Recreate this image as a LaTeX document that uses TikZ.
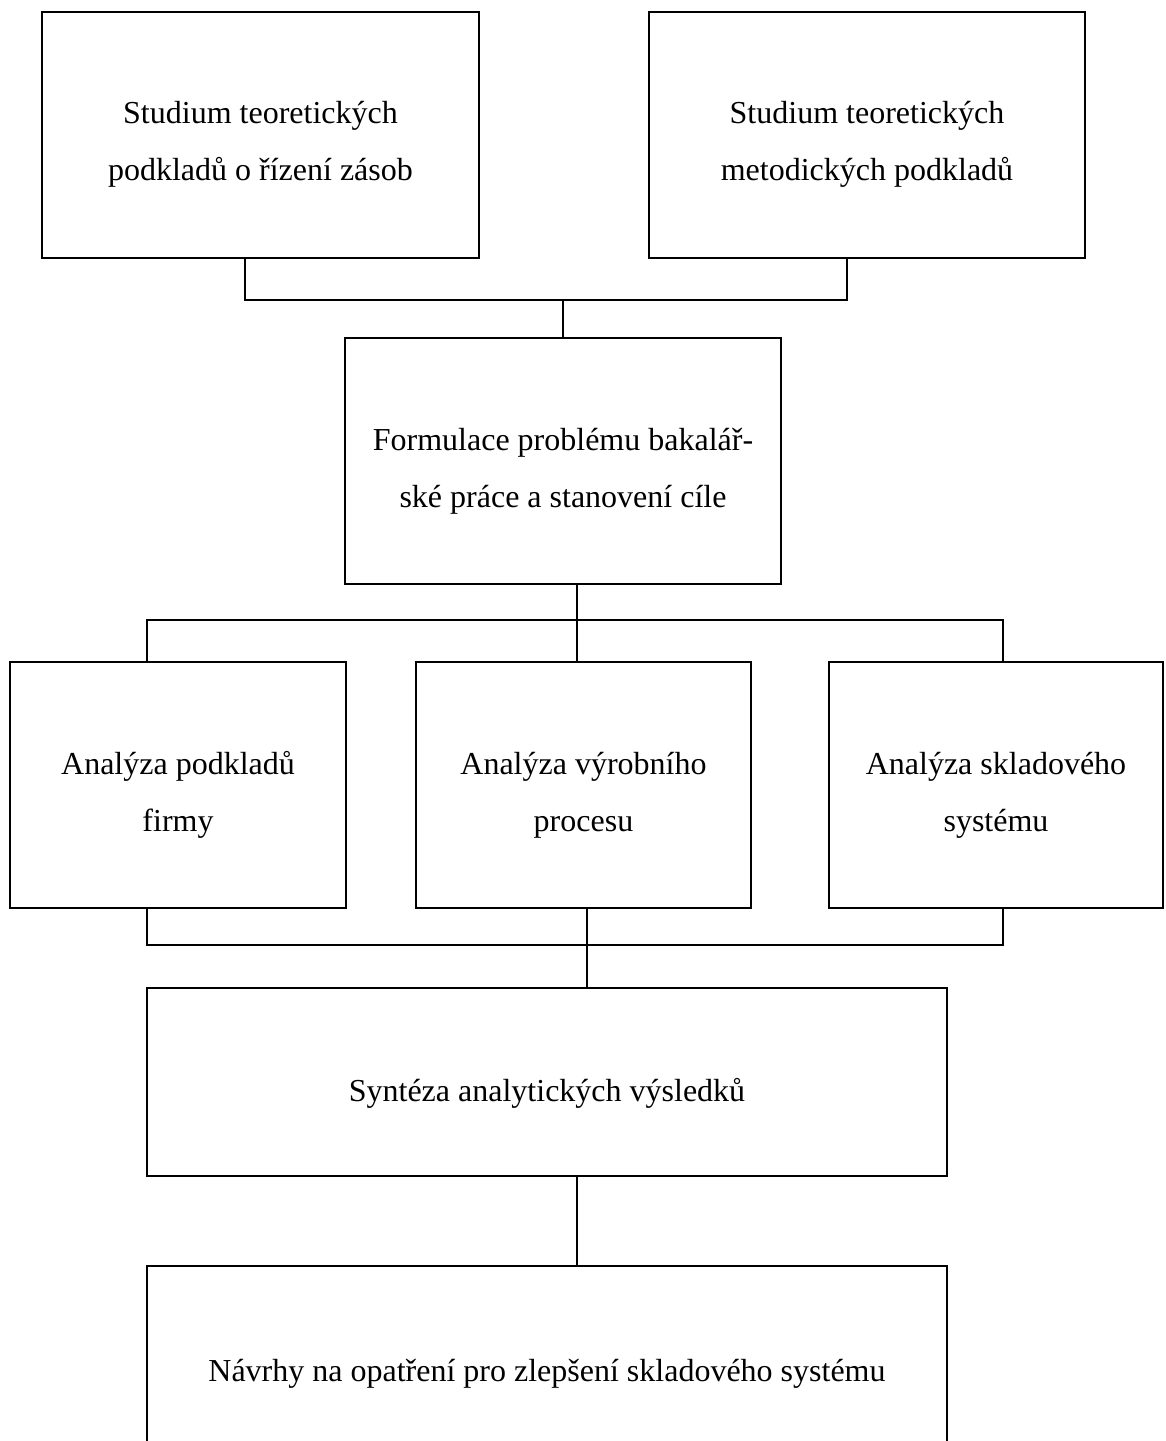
\documentclass[tikz,border=0pt]{standalone}
\usepackage{fontspec}
\setmainfont{Liberation Serif}

\begin{document}
\begin{tikzpicture}[x=1pt,y=-1pt,
  blok/.style={draw,line width=1.3pt,inner sep=0pt,minimum height=246pt},
  napis/.style={align=center,inner sep=0pt,font=\fontsize{32}{57}\selectfont},
  spoj/.style={line width=1.3pt},
]
\useasboundingbox (0,0) rectangle (1166,1441);
\clip (0,0) rectangle (1166,1441);

% theory
\node[blok,minimum width=437pt] (teorie) at (260.5,135) {};
\node[blok,minimum width=436pt] (metody) at (867,135) {};
\node[blok,minimum width=436pt] (cil) at (563,461) {};

% analyses
\node[blok,minimum width=336pt] (firma) at (178,785) {};
\node[blok,minimum width=335pt] (vyroba) at (583.5,785) {};
\node[blok,minimum width=334pt] (sklad) at (996,785) {};

\node[blok,minimum width=800pt,minimum height=188pt] (synteza) at (547,1082) {};
\node[blok,minimum width=800pt,minimum height=208pt] (navrhy) at (547,1370) {};

% texts sit a little below the middle of each box
\node[napis] (teorie-t) at ([yshift=-9pt]teorie.center)
  {Studium teoretických\\podkladů o řízení zásob};
\node[napis] (metody-t) at ([yshift=-9pt]metody.center)
  {Studium teoretických\\metodických podkladů};
\node[napis] (cil-t) at ([yshift=-10pt]cil.center)
  {Formulace problému bakalář-\\ské práce a stanovení cíle};
\node[napis] (firma-t) at ([yshift=-10pt]firma.center)
  {Analýza podkladů\\firmy};
\node[napis] (vyroba-t) at ([yshift=-10pt]vyroba.center)
  {Analýza výrobního\\procesu};
\node[napis] (sklad-t) at ([yshift=-10pt]sklad.center)
  {Analýza skladového\\systému};
\node[napis] (synteza-t) at ([yshift=-11pt]synteza.center)
  {Syntéza analytických výsledků};
\node[napis] (navrhy-t) at ([yshift=-4pt]navrhy.center)
  {Návrhy na opatření pro zlepšení skladového systému};

% junctions of the connectors
\coordinate (t1) at (245,300);
\coordinate (t2) at (847,300);
\coordinate (m0) at (577,620);
\coordinate (m1) at (147,620);
\coordinate (m2) at (1003,620);
\coordinate (d0) at (587,945);
\coordinate (d1) at (147,945);
\coordinate (d2) at (1003,945);
\coordinate (e0) at (577,1220);

\draw[spoj] (teorie.south -| t1) -- (t1) -- (t2) -- (metody.south -| t2);
\draw[spoj] (cil.north) -- (cil.north |- t1);

\draw[spoj] (cil.south -| m0) -- (vyroba.north -| m0);
\draw[spoj] (firma.north -| m1) -- (m1) -- (m2) -- (sklad.north -| m2);

\draw[spoj] (firma.south -| d1) -- (d1) -- (d2) -- (sklad.south -| d2);
\draw[spoj] (vyroba.south -| d0) -- (synteza.north -| d0);

\draw[spoj] (synteza.south -| e0) -- (navrhy.north -| e0);

\end{tikzpicture}
\end{document}
